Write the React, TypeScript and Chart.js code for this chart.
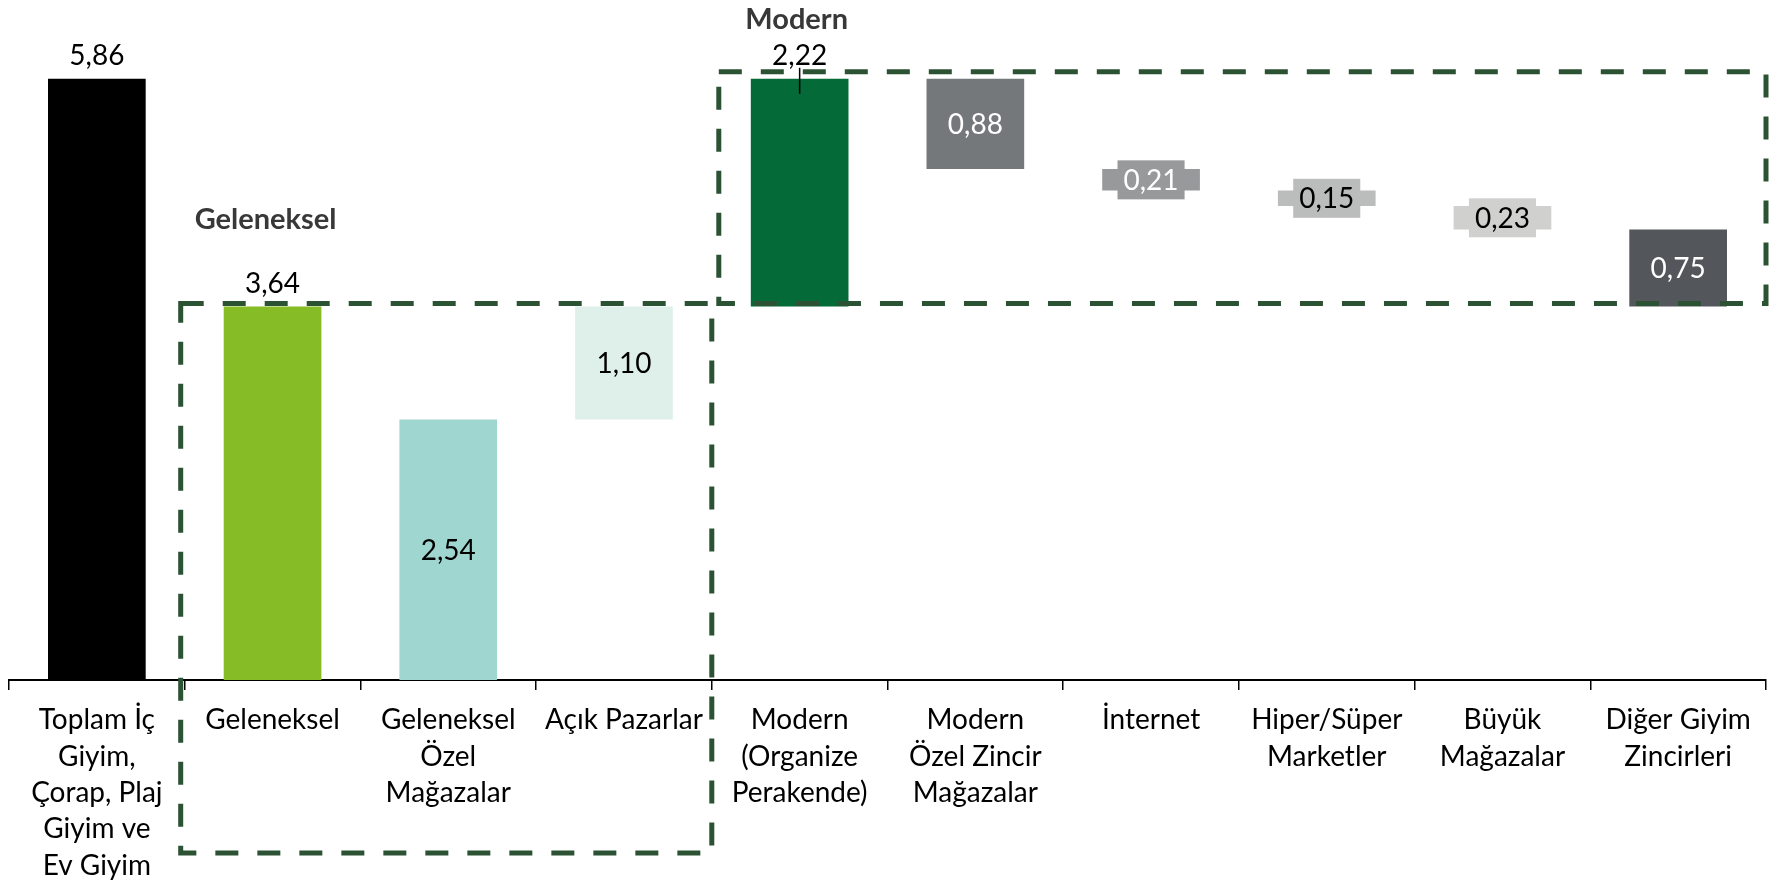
import React, { useEffect, useRef } from 'react';
import { Chart, registerables } from 'chart.js';

Chart.register(...registerables);

const categories: string[][] = [
  ['Toplam İç', 'Giyim,', 'Çorap, Plaj', 'Giyim ve', 'Ev Giyim'],
  ['Geleneksel'],
  ['Geleneksel', 'Özel', 'Mağazalar'],
  ['Açık Pazarlar'],
  ['Modern', '(Organize', 'Perakende)'],
  ['Modern', 'Özel Zincir', 'Mağazalar'],
  ['İnternet'],
  ['Hiper/Süper', 'Marketler'],
  ['Büyük', 'Mağazalar'],
  ['Diğer Giyim', 'Zincirleri'],
];

const values = [5.86, 3.64, 2.54, 1.1, 2.22, 0.88, 0.21, 0.15, 0.23, 0.75];
const bases = [0, 0, 0, 2.54, 3.64, 4.98, 4.77, 4.62, 4.39, 3.64];
const valueLabels = ['5,86', '3,64', '2,54', '1,10', '2,22', '0,88', '0,21', '0,15', '0,23', '0,75'];
const labelModes = ['above', 'above', 'inside', 'inside', 'above', 'inside', 'box', 'box', 'box', 'inside'];
const labelColors = ['#000000', '#000000', '#000000', '#000000', '#000000', '#ffffff', '#ffffff', '#000000', '#000000', '#ffffff'];
const barColors = [
  '#000000', '#86BC25', '#A0D6D0', '#DFF0EA', '#046A38',
  '#75787B', '#97999B', '#BBBCBC', '#D0D0CE', '#53565A',
];
const groupTitles = ['Geleneksel', 'Modern'];

const FONT = 'Lato, "Noto Sans", sans-serif';
const DASH = '#2C5234';

const overlayPlugin = {
  id: 'overlay',
  afterDatasetsDraw(chart: any) {
    const { ctx, chartArea } = chart;
    const xs = chart.scales.x;
    const ys = chart.scales.y;
    const meta = chart.getDatasetMeta(0);
    ctx.save();

    // dashed group boxes
    ctx.strokeStyle = DASH;
    ctx.lineWidth = 5;
    ctx.setLineDash([23, 19]);
    const b1L = xs.getPixelForValue(0.5) - 4;
    const b1R = xs.getPixelForValue(3.5);
    const b1T = ys.getPixelForValue(values[1]) - 3;
    const b1B = chartArea.bottom + 173;
    ctx.strokeRect(b1L, b1T, b1R - b1L, b1B - b1T);
    const b2L = xs.getPixelForValue(3.5) + 7;
    const b2R = chartArea.right;
    const b2T = ys.getPixelForValue(values[0]) - 7;
    const b2B = b1T;
    ctx.strokeRect(b2L, b2T, b2R - b2L, b2B - b2T);
    ctx.setLineDash([]);

    // group titles
    ctx.font = 'bold 29px ' + FONT;
    ctx.fillStyle = '#383838';
    ctx.textAlign = 'center';
    ctx.textBaseline = 'alphabetic';
    ctx.fillText(groupTitles[0], xs.getPixelForValue(1) - 7, ys.getPixelForValue(4.4));
    ctx.fillText(groupTitles[1], xs.getPixelForValue(4) - 3, ys.getPixelForValue(6.345));

    // value labels
    ctx.font = '28px ' + FONT;
    meta.data.forEach((bar: any, i: number) => {
      const mode = labelModes[i];
      const cx = bar.x;
      const top = Math.min(bar.y, bar.base);
      const bottom = Math.max(bar.y, bar.base);
      const txt = valueLabels[i];
      if (mode === 'above') {
        ctx.fillStyle = labelColors[i];
        ctx.textBaseline = 'alphabetic';
        ctx.fillText(txt, cx, top - 14);
        if (i === 4) {
          ctx.strokeStyle = '#000000';
          ctx.lineWidth = 1.5;
          ctx.beginPath();
          ctx.moveTo(cx, top - 11);
          ctx.lineTo(cx, top + 15);
          ctx.stroke();
        }
      } else if (mode === 'inside') {
        ctx.fillStyle = labelColors[i];
        ctx.textBaseline = 'middle';
        ctx.fillText(txt, cx, (top + bottom) / 2 + 1);
      } else {
        const w = ctx.measureText(txt).width + 12;
        const h = 39;
        const cy = (top + bottom) / 2;
        ctx.fillStyle = barColors[i];
        ctx.fillRect(cx - w / 2, cy - h / 2, w, h);
        ctx.fillStyle = labelColors[i];
        ctx.textBaseline = 'middle';
        ctx.fillText(txt, cx, cy + 1);
      }
    });
    ctx.restore();
  },
};

export default function App() {
  const canvasRef = useRef<HTMLCanvasElement | null>(null);

  useEffect(() => {
    if (!canvasRef.current) return;
    const chart = new Chart(canvasRef.current, {
      type: 'bar',
      data: {
        labels: categories,
        datasets: [
          {
            data: values.map((v, i) => [bases[i], bases[i] + v]),
            backgroundColor: barColors,
            borderWidth: 0,
            barPercentage: 0.556,
            categoryPercentage: 1,
          },
        ],
      },
      options: {
        animation: false,
        responsive: true,
        maintainAspectRatio: false,
        layout: { padding: { left: 1, right: 15, top: 0, bottom: 0 } },
        plugins: {
          legend: { display: false },
          tooltip: { enabled: false },
          title: { display: false },
        },
        scales: {
          x: {
            afterFit: (scale: any) => {
              scale.height = 202;
            },
            grid: {
              display: true,
              drawOnChartArea: false,
              drawTicks: true,
              tickLength: 10,
              color: '#000000',
              lineWidth: 1.5,
              offset: true,
            },
            border: { display: true, color: '#000000', width: 2 },
            ticks: {
              autoSkip: false,
              maxRotation: 0,
              minRotation: 0,
              padding: 12,
              color: '#000000',
              font: { family: FONT, size: 28, lineHeight: 1.3 },
            },
          },
          y: {
            display: false,
            min: 0,
            max: 6.55,
          },
        },
      },
      plugins: [overlayPlugin],
    });
    return () => chart.destroy();
  }, []);

  return (
    <div style={{ width: '100%', height: '874px', position: 'relative' }}>
      <canvas ref={canvasRef} style={{ display: 'block' }} />
    </div>
  );
}
